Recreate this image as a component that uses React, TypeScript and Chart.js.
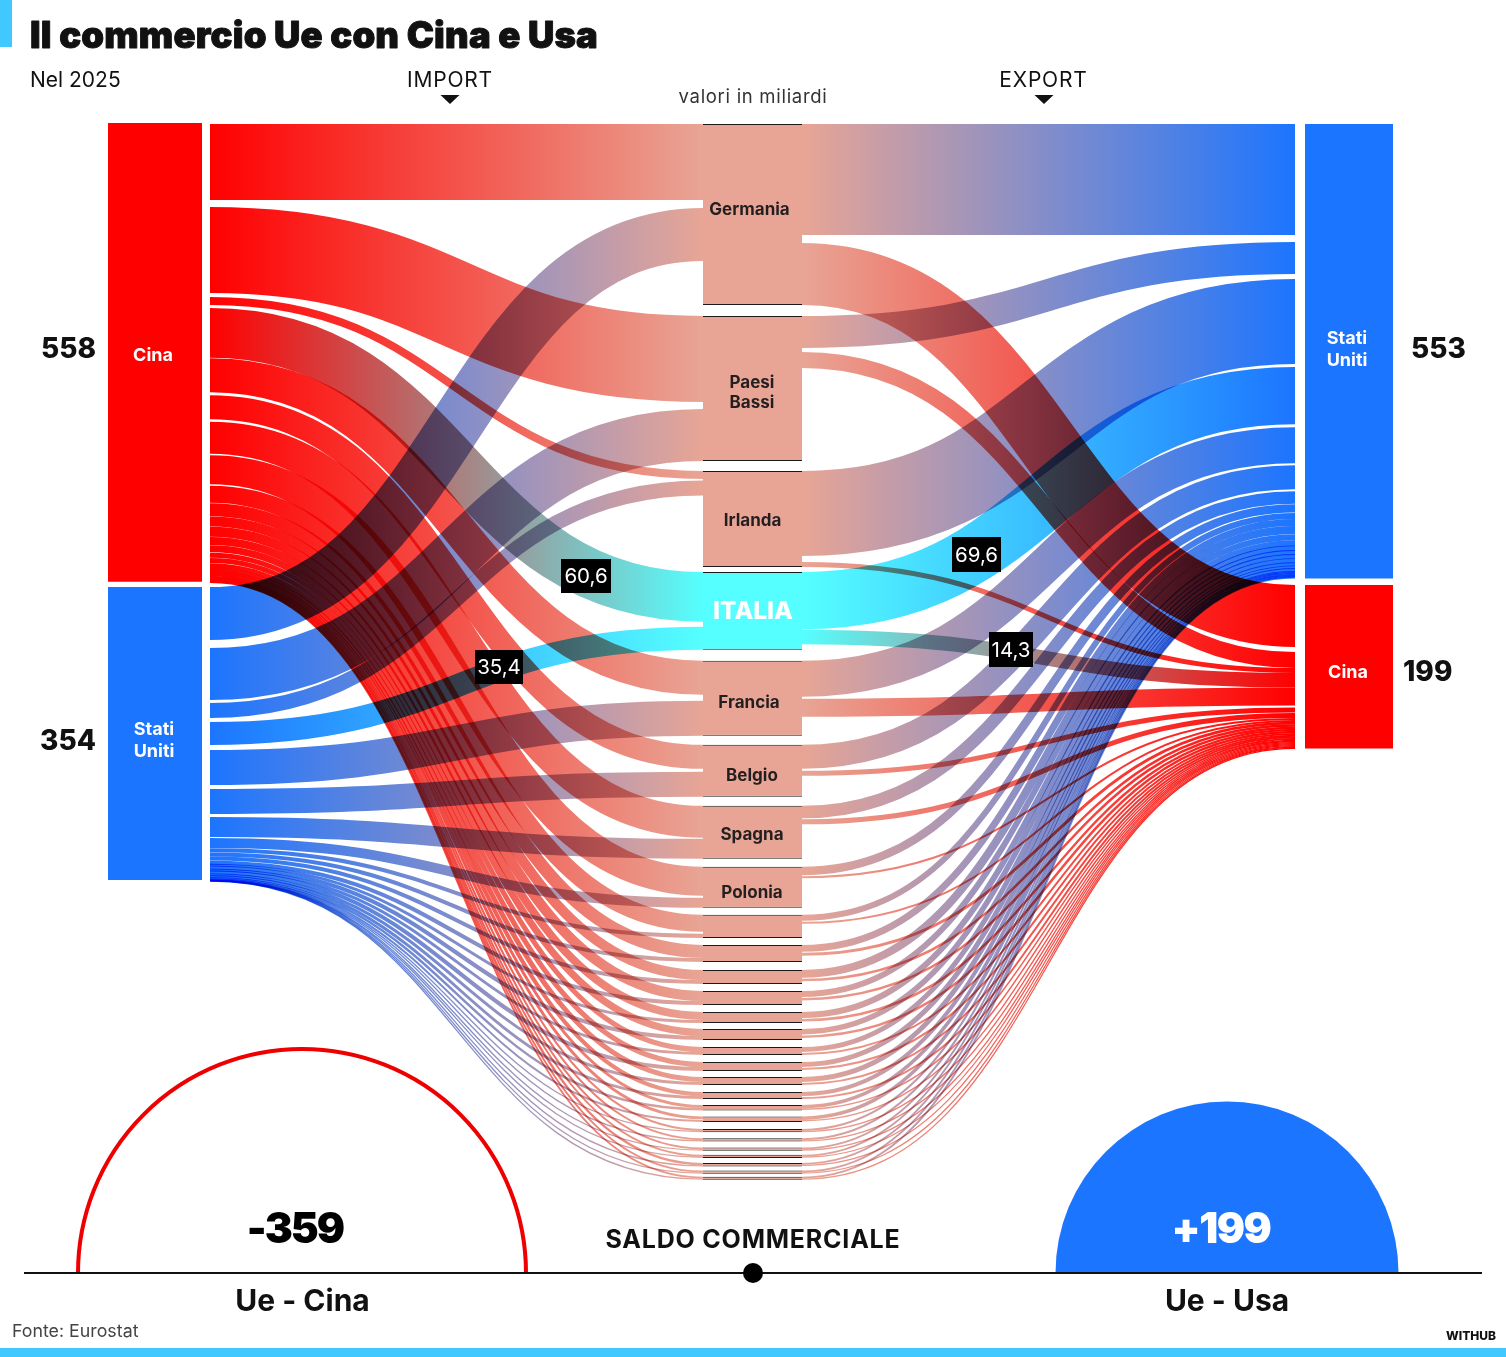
import React, { useEffect, useRef } from "react";
import { Chart, registerables } from "chart.js";

Chart.register(...registerables);

// ---------- data (miliardi di euro) ----------
const COUNTRIES = [
  "Germania", "Paesi Bassi", "Irlanda", "Italia", "Francia", "Belgio", "Spagna", "Polonia",
  "Danimarca", "Austria", "Rep. Ceca", "Svezia", "Romania", "Ungheria", "Slovacchia", "Portogallo",
  "Finlandia", "Grecia", "Bulgaria", "Lituania", "Slovenia", "Lussemburgo", "Lettonia", "Estonia",
  "Croazia", "Cipro", "Malta",
];
const IMPORT_CINA = [92.5, 104.6, 9.7, 60.6, 41.4, 29.2, 38.9, 35.3, 20.7, 15.8, 12.2, 12.2, 9.7, 8.5, 6.1, 6.1, 6.1, 4.9, 3.6, 3.6, 2.4, 2.4, 2.4, 2.2, 2.9, 2.2, 2.2];
const IMPORT_USA = [64.5, 63.3, 18.2, 28, 42.6, 30.4, 24.3, 12.2, 4.9, 4.9, 4.9, 4.9, 3.6, 4.9, 3.6, 4.9, 3.6, 3.6, 3, 2.4, 1.6, 1.6, 1.6, 1.6, 1.6, 1.6, 1.6];
const EXPORT_USA = [135, 38.9, 103.4, 69.6, 43.8, 29.2, 15.2, 10.3, 7.3, 8.5, 9.7, 7.3, 7.3, 6.7, 6.1, 6.1, 6.1, 4.9, 4.3, 4.3, 2.4, 2.4, 2.4, 2.2, 2.2, 2.2, 2.2];
const EXPORT_CINA = [75.4, 19.5, 6.1, 17.6, 21.9, 6.1, 6.1, 2.4, 2.4, 3.6, 3, 3, 3, 3, 2.4, 2.4, 2.4, 2.4, 1.8, 1.8, 1.6, 1.6, 1.5, 1.5, 1.5, 1.5, 1.5];
const TOTALS = { importCina: 558, importUsa: 354, exportUsa: 553, exportCina: 199 };
const BALANCES = { cina: -359, usa: 199 };
const CALLOUTS = ["60,6", "35,4", "69,6", "14,3"];

// ---------- layout (pixels on the x/y scales) ----------
const W = 1506;
const H = 1357;
const K = 0.822; // px per miliardo
const NODE_PAD = [0, 11, 10, 5, 11, 9, 9, 8, 7, 7, 8, 7, 7, 6, 7, 7, 6, 7, 6, 6, 7, 6, 6, 4, 5, 4, 3];
const LEFT_INNER = [8, 7, 1.5, 5, 6, 3, 1, 2, 2, 0, 0, 0, 0, 0, 0, 0, 0, 0, 0, 0.6, 0, 0, 0, 0, 0, 0, 0];
const RIGHT_INNER = [8, 4, 6, 0.5, 2, 2, 1, 1, 1, 1, 1, 1, 1, 1, 1, 1, 1, 1, 0, 0, 0, 0, 0, 0, 0, 0, 0];
const GAP_CN_LEFT = [7, 4, 3, 0.5, 3, 2.5, 1.5, 1.5, 0.3, 0.3, 0.3, 0.3, 0.3, 0.3, 0.3, 0.3, -0.9, -0.9, -0.9, -0.9, -0.9, -0.9, -0.9, -0.9, -0.9, -0.9, 0];
const GAP_US_LEFT = [8, 3, 4, 5, 4, 3, 1, 0.3, 0.1, 0.1, 0.1, -1.1, -1.1, -1.1, -1.1, -1.1, -1.1, -1.1, -1.1, -1.1, -1.1, -1.1, -1.1, -1.1, -1.1, -1.1, 0];
const GAP_US_RIGHT = [7, 5, 3, 3, 2, 2, 0.5, 0.3, 0.1, 0.1, 0.1, 0.1, -0.9, -0.9, -0.9, -0.9, -0.9, -0.9, -0.9, -0.9, -0.9, -0.9, -0.9, -0.9, -0.9, -0.9, 0];
const GAP_CN_RIGHT = [5, 0, 0, 0, 2, 0.5, 0, 0, -0.3, -0.3, -0.3, -0.3, -0.3, -0.3, -0.3, -0.3, -0.3, -0.3, -0.3, -0.3, -0.3, -0.3, -0.3, -0.3, -0.3, -0.3, 0];

const RED = "#ff0000";
const BLUE = "#1c75ff";
const SALMON = "#e8a595";
const CYAN = "#55ffff";
const ACCENT = "#40c8ff";
const INK = "#111111";
const FONT = "Inter, 'Noto Sans', sans-serif";

const COL_L = { x0: 108, x1: 202, flow: 210 };
const COL_R = { x0: 1305, x1: 1393, flow: 1295 };
const MID = { x0: 703, x1: 802 };
const TOP_CN_L = 123;
const TOP_US_L = 587;
const US_L_BLEED = 2;
const TOP_US_R = 124;
const TOP_CN_R = 585;
const TOP_MID = 124;

// ---------- derived stacks ----------
const px = (v: number) => v * K;

function stackColumn(values: number[], gaps: number[], top: number) {
  let y = top;
  return values.map((v, i) => {
    const h = px(v);
    const r = { y0: y, y1: y + h };
    y += h + gaps[i];
    return r;
  });
}

const midNodes = (() => {
  let y = TOP_MID;
  return COUNTRIES.map((name, i) => {
    y += NODE_PAD[i];
    const left = px(IMPORT_CINA[i]) + LEFT_INNER[i] + px(IMPORT_USA[i]);
    const right = px(EXPORT_USA[i]) + RIGHT_INNER[i] + px(EXPORT_CINA[i]);
    const h = Math.max(left, right);
    const node = { name, y0: y, y1: y + h };
    y += h;
    return node;
  });
})();

const cnL = stackColumn(IMPORT_CINA, GAP_CN_LEFT, TOP_CN_L + 1);
const usL = stackColumn(IMPORT_USA, GAP_US_LEFT, TOP_US_L);
const usR = stackColumn(EXPORT_USA, GAP_US_RIGHT, TOP_US_R);
const cnR = stackColumn(EXPORT_CINA, GAP_CN_RIGHT, TOP_CN_R);

type Ribbon = { x0: number; y0: number; x1: number; y1: number; w: number; c0: string; c1: string };

const ribbons: Ribbon[] = [];
COUNTRIES.forEach((name, i) => {
  const node = midNodes[i];
  const nodeColor = name === "Italia" ? CYAN : SALMON;
  const a = px(IMPORT_CINA[i]);
  const b = px(IMPORT_USA[i]);
  const c = px(EXPORT_USA[i]);
  const d = px(EXPORT_CINA[i]);
  ribbons.push({ x0: COL_L.flow, y0: (cnL[i].y0 + cnL[i].y1) / 2, x1: MID.x0, y1: node.y0 + a / 2, w: a, c0: RED, c1: nodeColor });
  ribbons.push({ x0: COL_L.flow, y0: (usL[i].y0 + usL[i].y1) / 2, x1: MID.x0, y1: node.y0 + a + LEFT_INNER[i] + b / 2, w: b, c0: BLUE, c1: nodeColor });
  ribbons.push({ x0: MID.x1, y0: node.y0 + c / 2, x1: COL_R.flow, y1: (usR[i].y0 + usR[i].y1) / 2, w: c, c0: nodeColor, c1: BLUE });
  ribbons.push({ x0: MID.x1, y0: node.y0 + c + RIGHT_INNER[i] + d / 2, x1: COL_R.flow, y1: (cnR[i].y0 + cnR[i].y1) / 2, w: d, c0: nodeColor, c1: RED });
});

// ---------- plugins ----------
const ribbonPlugin = {
  id: "ribbons",
  beforeDraw(chart: any) {
    const { ctx } = chart;
    ctx.save();
    ctx.fillStyle = "#ffffff";
    ctx.fillRect(0, 0, W, H);
    ctx.restore();
  },
  beforeDatasetsDraw(chart: any) {
    const { ctx, scales } = chart;
    const X = scales.x;
    const Y = scales.y;
    ctx.save();
    ctx.globalCompositeOperation = "multiply";
    ctx.lineCap = "butt";
    ribbons.forEach((r) => {
      const x0 = X.getPixelForValue(r.x0);
      const x1 = X.getPixelForValue(r.x1);
      const y0 = Y.getPixelForValue(r.y0);
      const y1 = Y.getPixelForValue(r.y1);
      const g = ctx.createLinearGradient(x0, 0, x1, 0);
      g.addColorStop(0, r.c0);
      g.addColorStop(1, r.c1);
      const xm = (x0 + x1) / 2;
      ctx.beginPath();
      ctx.moveTo(x0, y0);
      ctx.bezierCurveTo(xm, y0, xm, y1, x1, y1);
      ctx.strokeStyle = g;
      ctx.lineWidth = r.w;
      ctx.stroke();
    });
    ctx.restore();
  },
};

function text(ctx: any, s: string, x: number, y: number, font: string, color: string, align = "center", spacing = "0px", bold = 0) {
  ctx.font = font;
  ctx.fillStyle = color;
  ctx.textAlign = align;
  ctx.textBaseline = "alphabetic";
  ctx.letterSpacing = spacing;
  if (bold > 0) {
    ctx.strokeStyle = color;
    ctx.lineWidth = bold;
    ctx.lineJoin = "round";
    ctx.strokeText(s, x, y);
  }
  ctx.fillText(s, x, y);
  ctx.letterSpacing = "0px";
}

const annotationPlugin = {
  id: "annotations",
  afterDatasetsDraw(chart: any) {
    const { ctx, scales } = chart;
    const X = (v: number) => scales.x.getPixelForValue(v);
    const Y = (v: number) => scales.y.getPixelForValue(v);
    ctx.save();

    // accents
    ctx.fillStyle = ACCENT;
    ctx.fillRect(X(0), Y(0), 12, 47);
    ctx.fillRect(X(0), Y(1348), W, 9);

    // header
    text(ctx, "Il commercio Ue con Cina e Usa", X(30), Y(48), `900 36.5px ${FONT}`, INK, "left", "0.15px", 0.9);
    text(ctx, "Nel 2025", X(30), Y(87), `400 21px ${FONT}`, INK, "left");
    text(ctx, "IMPORT", X(450), Y(87), `400 21px ${FONT}`, INK, "center", "0.8px");
    text(ctx, "EXPORT", X(1043.5), Y(87), `400 21px ${FONT}`, INK, "center", "0.8px");
    text(ctx, "valori in miliardi", X(753), Y(103), `400 18.5px ${FONT}`, "#333333", "center", "0.7px");
    ctx.fillStyle = "#111111";
    [450, 1044].forEach((cx) => {
      ctx.beginPath();
      ctx.moveTo(X(cx - 9.5), Y(95));
      ctx.lineTo(X(cx + 9.5), Y(95));
      ctx.lineTo(X(cx), Y(104));
      ctx.closePath();
      ctx.fill();
    });

    // totals
    const big = `800 28px ${FONT}`;
    text(ctx, String(TOTALS.importCina), X(96), Y(358), big, INK, "right");
    text(ctx, String(TOTALS.importUsa), X(96), Y(750), big, INK, "right");
    text(ctx, String(TOTALS.exportUsa), X(1411), Y(358), big, INK, "left");
    text(ctx, String(TOTALS.exportCina), X(1403), Y(681), big, INK, "left");

    // column labels
    const col = `700 18px ${FONT}`;
    text(ctx, "Cina", X(153), Y(361), col, "#ffffff");
    text(ctx, "Stati", X(154), Y(735), col, "#ffffff");
    text(ctx, "Uniti", X(154), Y(757), col, "#ffffff");
    text(ctx, "Stati", X(1347), Y(344), col, "#ffffff");
    text(ctx, "Uniti", X(1347), Y(366), col, "#ffffff");
    text(ctx, "Cina", X(1348), Y(678), col, "#ffffff");

    // country labels
    const lab = `700 17px ${FONT}`;
    const ink2 = "#231f20";
    text(ctx, "Germania", X(749.5), Y(215), lab, ink2);
    text(ctx, "Paesi", X(752), Y(388), lab, ink2);
    text(ctx, "Bassi", X(752), Y(408), lab, ink2);
    text(ctx, "Irlanda", X(752.5), Y(526), lab, ink2);
    text(ctx, "ITALIA", X(753), Y(619), `800 24.5px ${FONT}`, "#ffffff");
    text(ctx, "Francia", X(749), Y(708), lab, ink2);
    text(ctx, "Belgio", X(752), Y(781), lab, ink2);
    text(ctx, "Spagna", X(752), Y(840), lab, ink2);
    text(ctx, "Polonia", X(752), Y(898), lab, ink2);

    // callouts
    const boxes = [
      [561, 559, 50, 34],
      [475, 650, 48, 34],
      [952, 537, 49, 35],
      [989, 632, 44, 35],
    ];
    boxes.forEach(([x, y, w, h], i) => {
      ctx.fillStyle = "#000000";
      ctx.fillRect(X(x), Y(y), w, h);
      text(ctx, CALLOUTS[i], X(x + w / 2), Y(y + h / 2 + 7), `400 20.5px ${FONT}`, "#ffffff");
    });

    // balance
    const base = 1273;
    ctx.beginPath();
    ctx.arc(X(302), Y(base), 224, Math.PI, 0);
    ctx.strokeStyle = "#ee0000";
    ctx.lineWidth = 4;
    ctx.stroke();
    ctx.beginPath();
    ctx.arc(X(1227), Y(base), 171.5, Math.PI, 0);
    ctx.closePath();
    ctx.fillStyle = BLUE;
    ctx.fill();

    ctx.strokeStyle = "#111111";
    ctx.lineWidth = 2;
    ctx.beginPath();
    ctx.moveTo(X(24), Y(base));
    ctx.lineTo(X(1482), Y(base));
    ctx.stroke();
    ctx.fillStyle = "#000000";
    ctx.beginPath();
    ctx.arc(X(753), Y(base), 10, 0, Math.PI * 2);
    ctx.fill();

    const bal = `900 42px ${FONT}`;
    text(ctx, String(BALANCES.cina), X(295), Y(1243), bal, "#000000", "center", "-2px");
    text(ctx, "+" + BALANCES.usa, X(1221), Y(1243), bal, "#ffffff", "center", "-1.5px");
    text(ctx, "SALDO COMMERCIALE", X(753), Y(1248), `700 25px ${FONT}`, INK, "center", "0.8px");
    text(ctx, "Ue - Cina", X(302.5), Y(1311), `700 30px ${FONT}`, INK);
    text(ctx, "Ue - Usa", X(1227), Y(1311), `700 30px ${FONT}`, INK);
    text(ctx, "Fonte: Eurostat", X(12), Y(1337), `400 17.8px ${FONT}`, "#444444", "left");
    text(ctx, "WITHUB", X(1496), Y(1340), `800 12px ${FONT}`, INK, "right");

    ctx.restore();
  },
};

export default function App() {
  const ref = useRef<HTMLCanvasElement>(null);
  useEffect(() => {
    const barOpts = { grouped: false, inflateAmount: 0, borderSkipped: false };
    const chart = new Chart(ref.current as HTMLCanvasElement, {
      type: "bar",
      data: {
        datasets: [
          {
            ...barOpts,
            label: "Import",
            barThickness: COL_L.x1 - COL_L.x0,
            backgroundColor: [RED, BLUE],
            borderWidth: 0,
            data: [
              { x: (COL_L.x0 + COL_L.x1) / 2, y: [TOP_CN_L, TOP_CN_L + px(TOTALS.importCina)] },
              { x: (COL_L.x0 + COL_L.x1) / 2, y: [TOP_US_L, TOP_US_L + px(TOTALS.importUsa) + US_L_BLEED] },
            ],
          },
          {
            ...barOpts,
            label: "Export",
            barThickness: COL_R.x1 - COL_R.x0,
            backgroundColor: [BLUE, RED],
            borderWidth: 0,
            data: [
              { x: (COL_R.x0 + COL_R.x1) / 2, y: [TOP_US_R, TOP_US_R + px(TOTALS.exportUsa)] },
              { x: (COL_R.x0 + COL_R.x1) / 2, y: [TOP_CN_R, TOP_CN_R + px(TOTALS.exportCina)] },
            ],
          },
          {
            ...barOpts,
            label: "Paesi",
            barThickness: MID.x1 - MID.x0,
            backgroundColor: midNodes.map((n) => (n.name === "Italia" ? CYAN : SALMON)),
            borderColor: "#1a1a1a",
            borderWidth: { top: 1, bottom: 1, left: 0, right: 0 },
            data: midNodes.map((n) => ({ x: (MID.x0 + MID.x1) / 2, y: [n.y0, n.y1] })),
          },
        ],
      } as any,
      options: {
        animation: false,
        responsive: false,
        events: [],
        layout: { padding: 0 },
        plugins: { legend: { display: false }, tooltip: { enabled: false }, title: { display: false } },
        scales: {
          x: { type: "linear", min: 0, max: W, display: false, offset: false },
          y: { type: "linear", min: 0, max: H, reverse: true, display: false },
        },
      } as any,
      plugins: [ribbonPlugin, annotationPlugin],
    });
    return () => chart.destroy();
  }, []);
  return (
    <div style={{ position: "absolute", left: 0, top: 0, width: W, height: H }}>
      <canvas ref={ref} width={W} height={H} style={{ display: "block" }} />
    </div>
  );
}
